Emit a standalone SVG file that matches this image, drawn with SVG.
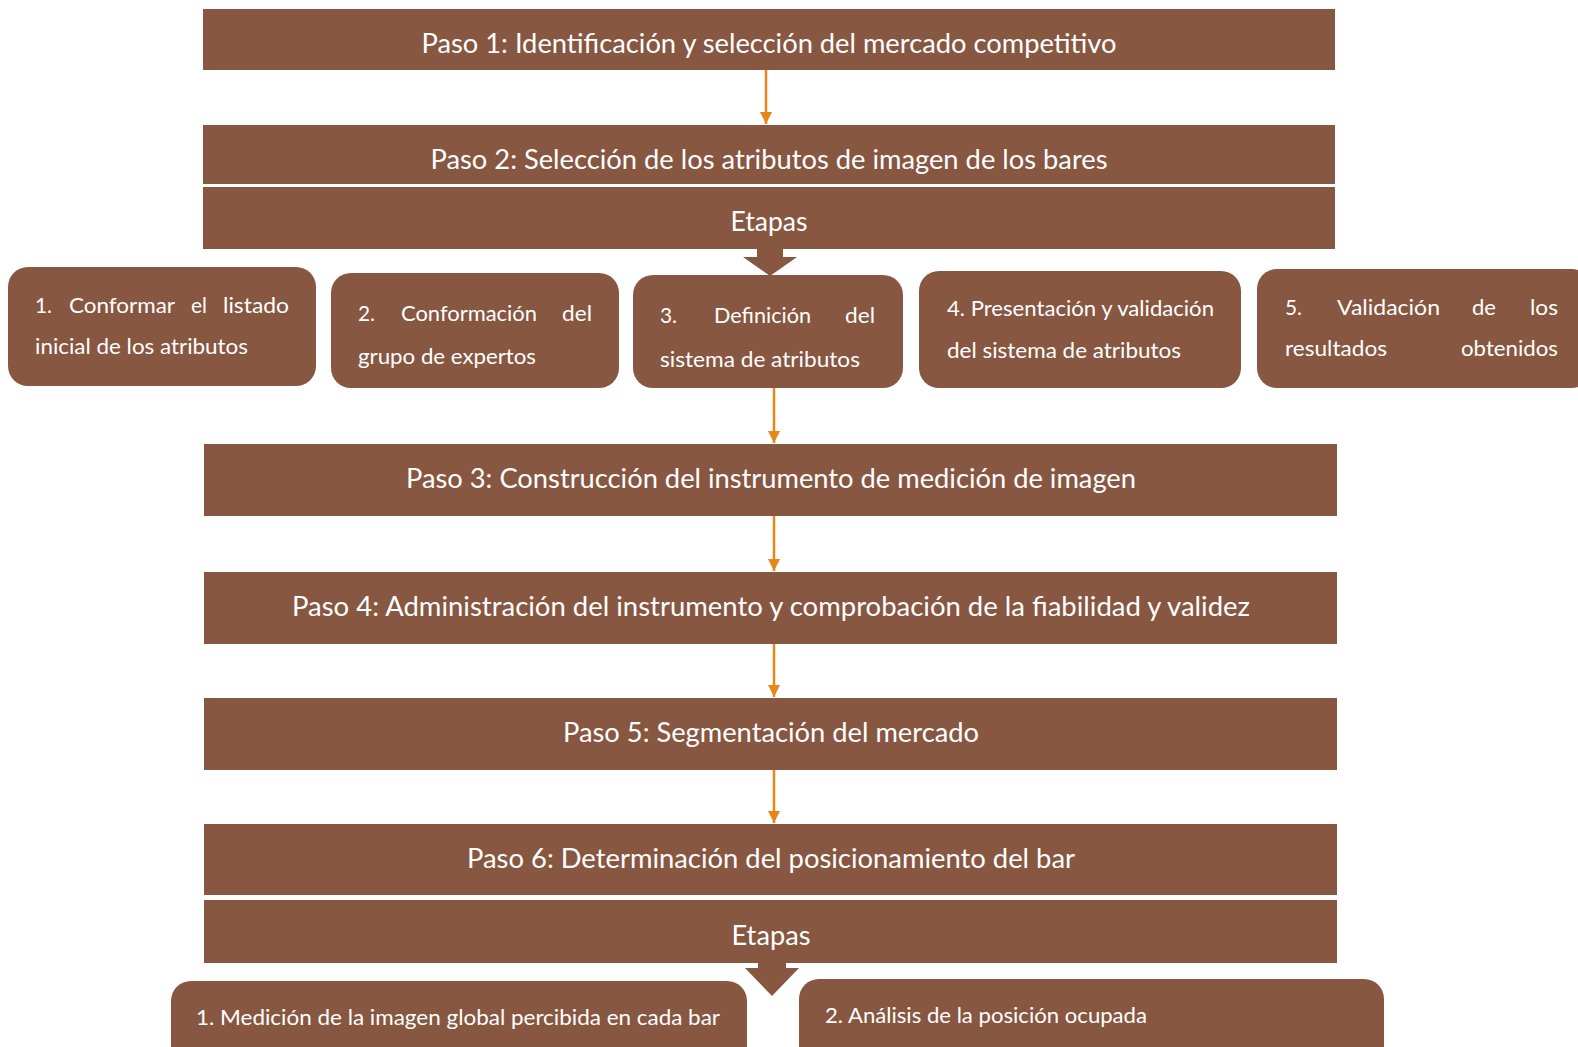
<svg xmlns="http://www.w3.org/2000/svg" width="1578" height="1047" viewBox="0 0 1578 1047">
<style>
.bar{fill:#875741;}
.sub{fill:#875741;}
.t{font-family:"Lato","Open Sans","Liberation Sans",sans-serif;fill:#ffffff;}
.big{font-size:26px;text-anchor:middle;}
.sm{font-size:21px;}
.e{text-anchor:end;}
.con{stroke:#E8861A;stroke-width:2.5;fill:none;}
</style>
<defs>
<marker id="ah" viewBox="0 0 10 10" refX="10" refY="5" markerWidth="5" markerHeight="5" orient="auto" markerUnits="strokeWidth">
<path d="M0,0 L10,5 L0,10 z" fill="#E8861A"/>
</marker>
</defs>
<rect width="1578" height="1047" fill="#ffffff"/>

<g id="paso1">
<rect class="bar" x="203" y="9" width="1132" height="61"/>
<text class="t big" x="769" y="53" textLength="695" lengthAdjust="spacingAndGlyphs">Paso 1: Identificación y selección del mercado competitivo</text>
</g>

<g id="paso2">
<rect class="bar" x="203" y="125" width="1132" height="59"/>
<text class="t big" x="769" y="169" textLength="677" lengthAdjust="spacingAndGlyphs">Paso 2: Selección de los atributos de imagen de los bares</text>
</g>

<g id="etapas1">
<rect class="bar" x="203" y="187" width="1132" height="62"/>
<text class="t big" x="769" y="231" textLength="77" lengthAdjust="spacingAndGlyphs">Etapas</text>
<path class="bar" d="M757,248 H783 V257 H797 L770,276 L743,257 H757 Z"/>
</g>

<g id="etapa1">
<rect class="sub" x="8" y="267" width="308" height="119" rx="20"/>
<text class="t sm" x="35" y="313" textLength="17" lengthAdjust="spacingAndGlyphs">1.</text>
<text class="t sm" x="69" y="313" textLength="106" lengthAdjust="spacingAndGlyphs">Conformar</text>
<text class="t sm" x="191" y="313" textLength="16" lengthAdjust="spacingAndGlyphs">el</text>
<text class="t sm" x="223" y="313" textLength="66" lengthAdjust="spacingAndGlyphs">listado</text>
<text class="t sm" x="35" y="354" textLength="213" lengthAdjust="spacingAndGlyphs">inicial de los atributos</text>
</g>

<g id="etapa2">
<rect class="sub" x="331" y="273" width="288" height="115" rx="20"/>
<text class="t sm" x="358" y="321" textLength="17" lengthAdjust="spacingAndGlyphs">2.</text>
<text class="t sm" x="401" y="321" textLength="136" lengthAdjust="spacingAndGlyphs">Conformación</text>
<text class="t sm" x="562" y="321" textLength="30" lengthAdjust="spacingAndGlyphs">del</text>
<text class="t sm" x="358" y="364" textLength="178" lengthAdjust="spacingAndGlyphs">grupo de expertos</text>
</g>

<g id="etapa3">
<rect class="sub" x="633" y="275" width="270" height="113" rx="20"/>
<text class="t sm" x="660" y="323" textLength="17" lengthAdjust="spacingAndGlyphs">3.</text>
<text class="t sm" x="714" y="323" textLength="97" lengthAdjust="spacingAndGlyphs">Definición</text>
<text class="t sm" x="845" y="323" textLength="30" lengthAdjust="spacingAndGlyphs">del</text>
<text class="t sm" x="660" y="367" textLength="200" lengthAdjust="spacingAndGlyphs">sistema de atributos</text>
</g>

<g id="etapa4">
<rect class="sub" x="919" y="271" width="322" height="117" rx="20"/>
<text class="t sm" x="947" y="316" textLength="267" lengthAdjust="spacingAndGlyphs">4. Presentación y validación</text>
<text class="t sm" x="947" y="358" textLength="234" lengthAdjust="spacingAndGlyphs">del sistema de atributos</text>
</g>

<g id="etapa5">
<rect class="sub" x="1257" y="269" width="335" height="119" rx="20"/>
<text class="t sm" x="1285" y="315" textLength="17" lengthAdjust="spacingAndGlyphs">5.</text>
<text class="t sm" x="1337" y="315" textLength="103" lengthAdjust="spacingAndGlyphs">Validación</text>
<text class="t sm" x="1472" y="315" textLength="24" lengthAdjust="spacingAndGlyphs">de</text>
<text class="t sm" x="1530" y="315" textLength="28" lengthAdjust="spacingAndGlyphs">los</text>
<text class="t sm" x="1285" y="356" textLength="102" lengthAdjust="spacingAndGlyphs">resultados</text>
<text class="t sm" x="1461" y="356" textLength="97" lengthAdjust="spacingAndGlyphs">obtenidos</text>
</g>

<g id="paso3">
<rect class="bar" x="204" y="444" width="1133" height="72"/>
<text class="t big" x="771" y="488" textLength="730" lengthAdjust="spacingAndGlyphs">Paso 3: Construcción del instrumento de medición de imagen</text>
</g>

<g id="paso4">
<rect class="bar" x="204" y="572" width="1133" height="72"/>
<text class="t big" x="771" y="616" textLength="958" lengthAdjust="spacingAndGlyphs">Paso 4: Administración del instrumento y comprobación de la fiabilidad y validez</text>
</g>

<g id="paso5">
<rect class="bar" x="204" y="698" width="1133" height="72"/>
<text class="t big" x="771" y="742" textLength="416" lengthAdjust="spacingAndGlyphs">Paso 5: Segmentación del mercado</text>
</g>

<g id="paso6">
<rect class="bar" x="204" y="824" width="1133" height="71"/>
<text class="t big" x="771" y="868" textLength="608" lengthAdjust="spacingAndGlyphs">Paso 6: Determinación del posicionamiento del bar</text>
</g>

<g id="etapas2">
<rect class="bar" x="204" y="900" width="1133" height="63"/>
<text class="t big" x="771" y="945" textLength="79" lengthAdjust="spacingAndGlyphs">Etapas</text>
<path class="bar" d="M758,962 H786 V968 H799 L772,996 L745,968 H758 Z"/>
</g>

<g id="etapa6-1">
<rect class="sub" x="171" y="981" width="576" height="100" rx="20"/>
<text class="t sm" x="196" y="1025" textLength="524" lengthAdjust="spacingAndGlyphs">1. Medición de la imagen global percibida en cada bar</text>
</g>

<g id="etapa6-2">
<rect class="sub" x="799" y="979" width="585" height="100" rx="20"/>
<text class="t sm" x="825" y="1023" textLength="322" lengthAdjust="spacingAndGlyphs">2. Análisis de la posición ocupada</text>
</g>

<g id="connectors">
<line class="con" x1="766" y1="70" x2="766" y2="124" marker-end="url(#ah)"/>
<line class="con" x1="774" y1="388" x2="774" y2="443" marker-end="url(#ah)"/>
<line class="con" x1="774" y1="516" x2="774" y2="571" marker-end="url(#ah)"/>
<line class="con" x1="774" y1="644" x2="774" y2="697" marker-end="url(#ah)"/>
<line class="con" x1="774" y1="770" x2="774" y2="823" marker-end="url(#ah)"/>
</g>
</svg>
